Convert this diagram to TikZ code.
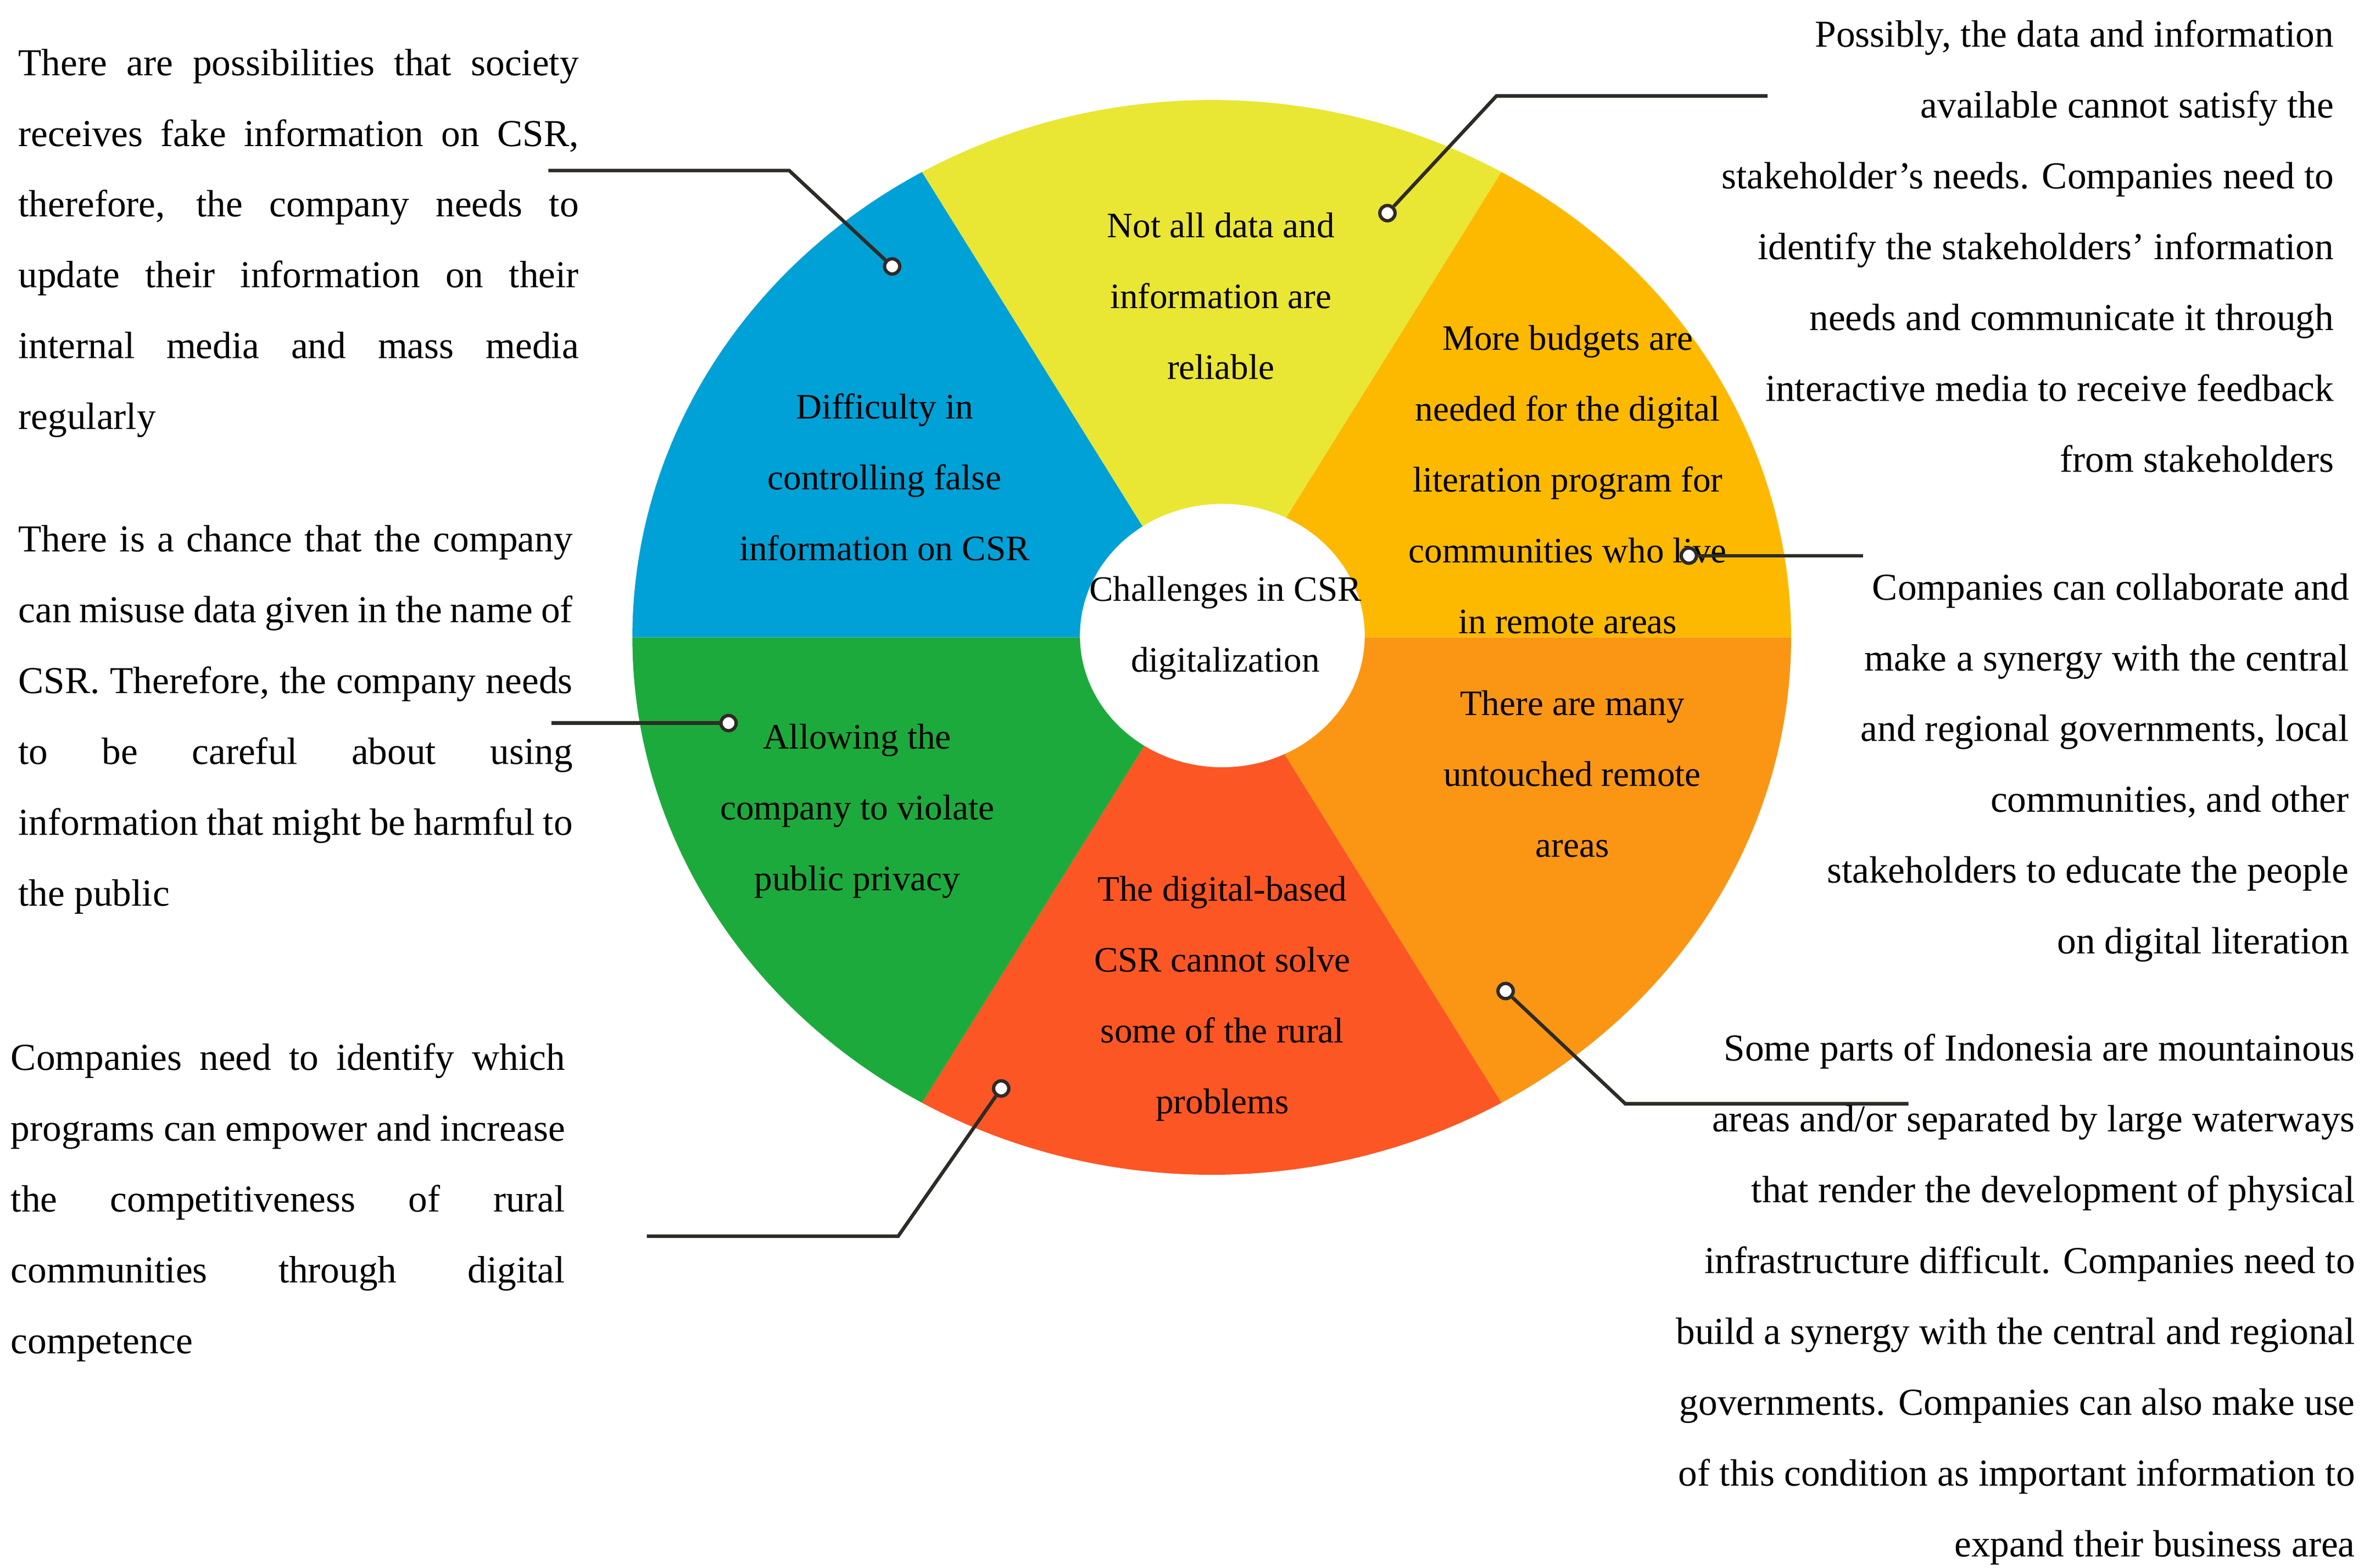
\documentclass[tikz,border=0pt]{standalone}
\usepackage{fontspec}
\setmainfont{Liberation Serif}
\usetikzlibrary{positioning}
\definecolor{segblue}{HTML}{00A1D6}
\definecolor{segyellow}{HTML}{EAE634}
\definecolor{segamber}{HTML}{FDB900}
\definecolor{segorange}{HTML}{FA9614}
\definecolor{segred}{HTML}{FC5624}
\definecolor{seggreen}{HTML}{1DAA3C}
\definecolor{linegray}{HTML}{2E2B26}
\newcommand{\jline}[2]{\makebox[#1][s]{#2}}
\tikzset{
    mytext/.style = {inner sep=0pt, align=center, anchor=base, font=\fontsize{23.5}{46.5}\selectfont},
    mynote/.style = {inner sep=0pt, font=\fontsize{25}{46.5}\selectfont},
    mynotel/.style = {mynote, align=left, anchor=base west},
    mynoter/.style = {mynote, align=right, anchor=base east},
    mydot/.style = {circle, draw=linegray, line width=2.2pt, fill=white, inner sep=0pt, minimum size=10pt},
    edgek/.style = {linegray, line width=2.3pt},
}
\begin{document}
\begin{tikzpicture}[x=0.99489pt,y=-1pt]
\useasboundingbox (0,0) rectangle (1568,1030);
%
\fill[segblue]   (800,418.7) -- ++(180:382.5 and 353) arc[start angle=180, end angle=240, x radius=382.5, y radius=353] -- cycle;
\fill[segyellow] (800,418.7) -- ++(240:382.5 and 353) arc[start angle=240, end angle=300, x radius=382.5, y radius=353] -- cycle;
\fill[segamber]  (800,418.7) -- ++(300:382.5 and 353) arc[start angle=300, end angle=360, x radius=382.5, y radius=353] -- cycle;
\fill[segorange] (800,418.7) -- ++(0:382.5 and 353) arc[start angle=0, end angle=60, x radius=382.5, y radius=353] -- cycle;
\fill[segred]    (800,418.7) -- ++(60:382.5 and 353) arc[start angle=60, end angle=120, x radius=382.5, y radius=353] -- cycle;
\fill[seggreen]  (800,418.7) -- ++(120:382.5 and 353) arc[start angle=120, end angle=180, x radius=382.5, y radius=353] -- cycle;
\fill[white] (807,417.5) ellipse[x radius=94, y radius=86.5];
%
% base anchor = baseline of the last line
\node[mytext] at (806,249) (tdata) {Not all data and\\information are\\reliable};
\node[mytext] at (584,368) (tfalse) {Difficulty in\\controlling false\\information on CSR};
\node[mytext] at (1035,416) (tbudget) {More budgets are\\needed for the digital\\literation program for\\communities who live\\in remote areas};
\node[mytext] at (809,441.5) (tcenter) {Challenges in CSR\\digitalization};
\node[mytext] at (1038,563) (tremote) {There are many\\untouched remote\\areas};
\node[mytext] at (807,731.5) (trural) {The digital-based\\CSR cannot solve\\some of the rural\\problems};
\node[mytext] at (566,585) (tprivacy) {Allowing the\\company to violate\\public privacy};
%
\node[mydot] at (589,175) (dfalse) {};
\node[mydot] at (481,475) (dprivacy) {};
\node[mydot] at (661,715) (drural) {};
\node[mydot] at (916,140) (ddata) {};
\node[mydot] at (1115,365) (dbudget) {};
\node[mydot] at (994,651) (dremote) {};
\coordinate (kfalse) at (521,112);
\coordinate (efalse) at (362,112);
\coordinate (eprivacy) at (364,475);
\coordinate (krural) at (593,812);
\coordinate (erural) at (427,812);
\coordinate (kdata) at (988,63);
\coordinate (edata) at (1167,63);
\coordinate (ebudget) at (1230,365);
\coordinate (kremote) at (1073,725);
\coordinate (eremote) at (1260,725);
%
\draw[edgek] (dfalse) -- (kfalse) -- (efalse);
\draw[edgek] (dprivacy) -- (eprivacy);
\draw[edgek] (drural) -- (krural) -- (erural);
\draw[edgek] (ddata) -- (kdata) -- (edata);
\draw[edgek] (dbudget) -- (ebudget);
\draw[edgek] (dremote) -- (kremote) -- (eremote);
%
\node[mynotel] at (12,282) (nfake) {\jline{368pt}{There are possibilities that society}\\
\jline{368pt}{receives fake information on CSR,}\\
\jline{368pt}{therefore, the company needs to}\\
\jline{368pt}{update their information on their}\\
\jline{368pt}{internal media and mass media}\\
regularly};
\node[mynotel] at (12,595) (nmisuse) {\jline{364pt}{There is a chance that the company}\\
\jline{364pt}{can misuse data given in the name of}\\
\jline{364pt}{CSR. Therefore, the company needs}\\
\jline{364pt}{to be careful about using}\\
\jline{364pt}{information that might be harmful to}\\
the public};
\node[mynotel] at (7,889) (nempower) {\jline{364pt}{Companies need to identify which}\\
\jline{364pt}{programs can empower and increase}\\
\jline{364pt}{the competitiveness of rural}\\
\jline{364pt}{communities through digital}\\
competence};
\node[mynoter] at (1541,310) (nneeds) {Possibly, the data and information\\
available cannot satisfy the\\
stakeholder’s needs. Companies need to\\
identify the stakeholders’ information\\
needs and communicate it through\\
interactive media to receive feedback\\
from stakeholders};
\node[mynoter] at (1551,626.5) (nsynergy) {Companies can collaborate and\\
make a synergy with the central\\
and regional governments, local\\
communities, and other\\
stakeholders to educate the people\\
on digital literation};
\node[mynoter] at (1555,1022.5) (nmount) {Some parts of Indonesia are mountainous\\
areas and/or separated by large waterways\\
that render the development of physical\\
infrastructure difficult. Companies need to\\
build a synergy with the central and regional\\
governments. Companies can also make use\\
of this condition as important information to\\
expand their business area};
\end{tikzpicture}
\end{document}
